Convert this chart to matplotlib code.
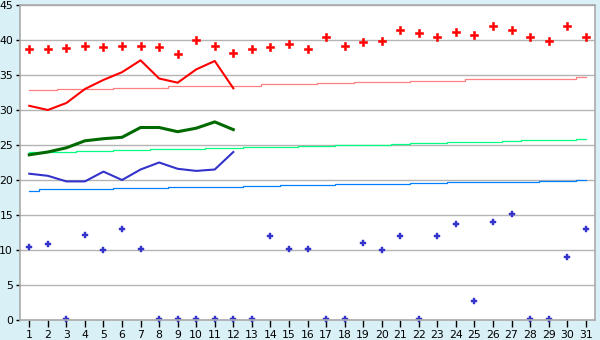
import matplotlib
matplotlib.use('Agg')
import matplotlib.pyplot as plt

days = list(range(1, 32))

# daily max / min readings
t_max = [38.7, 38.7, 38.8, 39.1, 39.0, 39.2, 39.2, 39.0, 38.0, 40.0,
         39.2, 38.2, 38.7, 39.0, 39.4, 38.7, 40.4, 39.2, 39.7, 39.8,
         41.4, 41.0, 40.5, 41.2, 40.7, 42.0, 41.5, 40.4, 39.8, 42.0, 40.4]
t_min = [10.4, 10.8, 0.2, 12.1, 10.0, 13.0, 10.1, 0.1, 0.1, 0.1,
         0.2, 0.2, 0.2, 12.0, 10.1, 10.1, 0.2, 0.2, 11.0, 10.0,
         12.0, 0.1, 12.0, 13.7, 2.7, 14.0, 15.2, 0.2, 0.1, 9.0, 13.0]

# this year, first 12 days
line_days = list(range(1, 13))
line_max = [30.6, 30.0, 31.0, 33.0, 34.3, 35.4, 37.1, 34.5, 33.9, 35.8, 37.0, 33.1]
line_mean = [23.6, 24.0, 24.6, 25.6, 25.9, 26.1, 27.5, 27.5, 26.9, 27.4, 28.3, 27.2]
line_min = [20.9, 20.6, 19.8, 19.8, 21.2, 20.0, 21.5, 22.5, 21.6, 21.3, 21.5, 24.0]

# normals
norm_max = [32.8, 32.8, 33.0, 33.0, 33.0, 33.1, 33.1, 33.2, 33.4, 33.4,
            33.4, 33.5, 33.5, 33.7, 33.7, 33.7, 33.8, 33.8, 34.0, 34.0,
            34.0, 34.1, 34.1, 34.2, 34.4, 34.4, 34.4, 34.4, 34.5, 34.5, 34.7]
norm_mean = [24.0, 24.0, 24.0, 24.1, 24.1, 24.3, 24.3, 24.4, 24.4, 24.4,
             24.6, 24.6, 24.7, 24.7, 24.7, 24.9, 24.9, 25.0, 25.0, 25.0,
             25.1, 25.3, 25.3, 25.4, 25.4, 25.4, 25.6, 25.7, 25.7, 25.7, 25.9]
norm_min = [18.5, 18.7, 18.7, 18.7, 18.7, 18.9, 18.9, 18.9, 19.0, 19.0,
            19.0, 19.0, 19.1, 19.1, 19.3, 19.3, 19.3, 19.4, 19.4, 19.4,
            19.4, 19.6, 19.6, 19.7, 19.7, 19.7, 19.7, 19.7, 19.9, 19.9, 20.0]

yticks = list(range(0, 50, 5))

fig = plt.figure(figsize=(6, 3.4), dpi=100)
fig.patch.set_facecolor('#daf0f7')
ax = fig.add_axes([20 / 600, 20 / 340, 575 / 600, 315 / 340])
ax.set_facecolor('white')

ax.set_xlim(0.5, 31.5)
ax.set_ylim(0, 45)
ax.set_yticks(yticks)
ax.set_xticks(days)
ax.grid(axis='y', color='#b4b4b4', linewidth=1)
ax.set_axisbelow(True)

ax.plot(days, norm_max, color='#ff8080', lw=0.9, drawstyle='steps-mid')
ax.plot(days, norm_mean, color='#00ff80', lw=0.9, drawstyle='steps-mid')
ax.plot(days, norm_min, color='#0080ff', lw=0.9, drawstyle='steps-mid')

ax.plot(line_days, line_max, color='#ff0000', lw=1.5)
ax.plot(line_days, line_mean, color='#006a00', lw=2.2)
ax.plot(line_days, line_min, color='#3333cc', lw=1.5)

ax.plot(days, t_max, 'P', color='#ff0000', ms=5.5, mew=0.4, clip_on=False)
ax.plot(days, t_min, 'P', color='#3333cc', ms=5, mew=0.3, clip_on=False)

for s in ax.spines.values():
    s.set_color('#aaaaaa')
    s.set_linewidth(1.2)
ax.tick_params(axis='both', colors='black', labelsize=7.8, width=1)
ax.tick_params(axis='x', length=5, pad=2)
ax.tick_params(axis='y', length=3, pad=2)

fig.savefig('out.png', dpi=100, facecolor=fig.get_facecolor())
